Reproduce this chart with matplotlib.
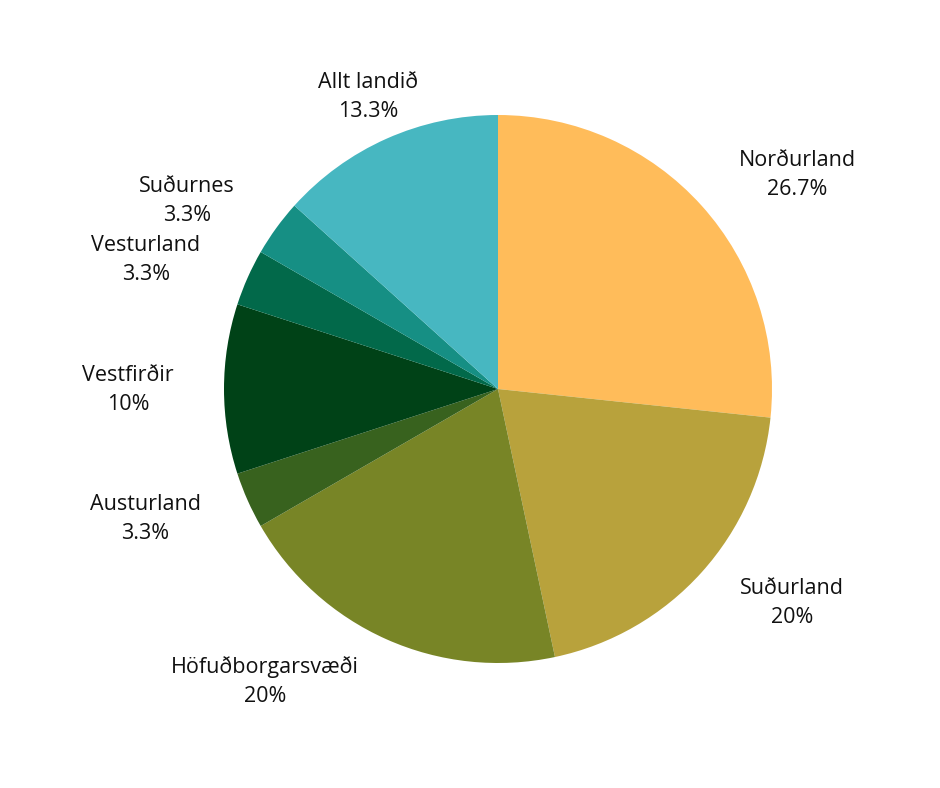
import matplotlib
matplotlib.use("Agg")
import matplotlib.pyplot as plt

regions = ["Norðurland", "Suðurland", "Höfuðborgarsvæði", "Austurland",
           "Vestfirðir", "Vesturland", "Suðurnes", "Allt landið"]
counts = [8, 6, 6, 1, 3, 1, 1, 4]
pct_labels = ["26.7%", "20%", "20%", "3.3%", "10%", "3.3%", "3.3%", "13.3%"]
colors = ["#FFBC5A", "#B8A23C", "#788526", "#38621E",
          "#004217", "#02694A", "#168F84", "#47B7C1"]

# label centres in pixel coords (x, y from top)
label_pos = [(797, 175), (792, 603), (265, 682), (145, 519),
             (128, 390), (146, 260), (187, 201), (368, 97)]

W, H = 940, 788
fig = plt.figure(figsize=(W / 100, H / 100), dpi=100)
ax = fig.add_axes([0, 0, 1, 1])

ax.pie(counts, colors=colors, startangle=90, counterclock=False,
       center=(498, H - 389), radius=274, frame=True,
       wedgeprops=dict(linewidth=0))
ax.set_xlim(0, W)
ax.set_ylim(0, H)
ax.set_aspect("equal")
ax.axis("off")

for name, pct, (x, y) in zip(regions, pct_labels, label_pos):
    ax.text(x, H - y, name + "\n" + pct, ha="center", va="center",
            fontsize=15.5, family=["Open Sans", "DejaVu Sans"], color="#111111",
            linespacing=1.5)

fig.savefig("out.png", dpi=100, facecolor="white")
